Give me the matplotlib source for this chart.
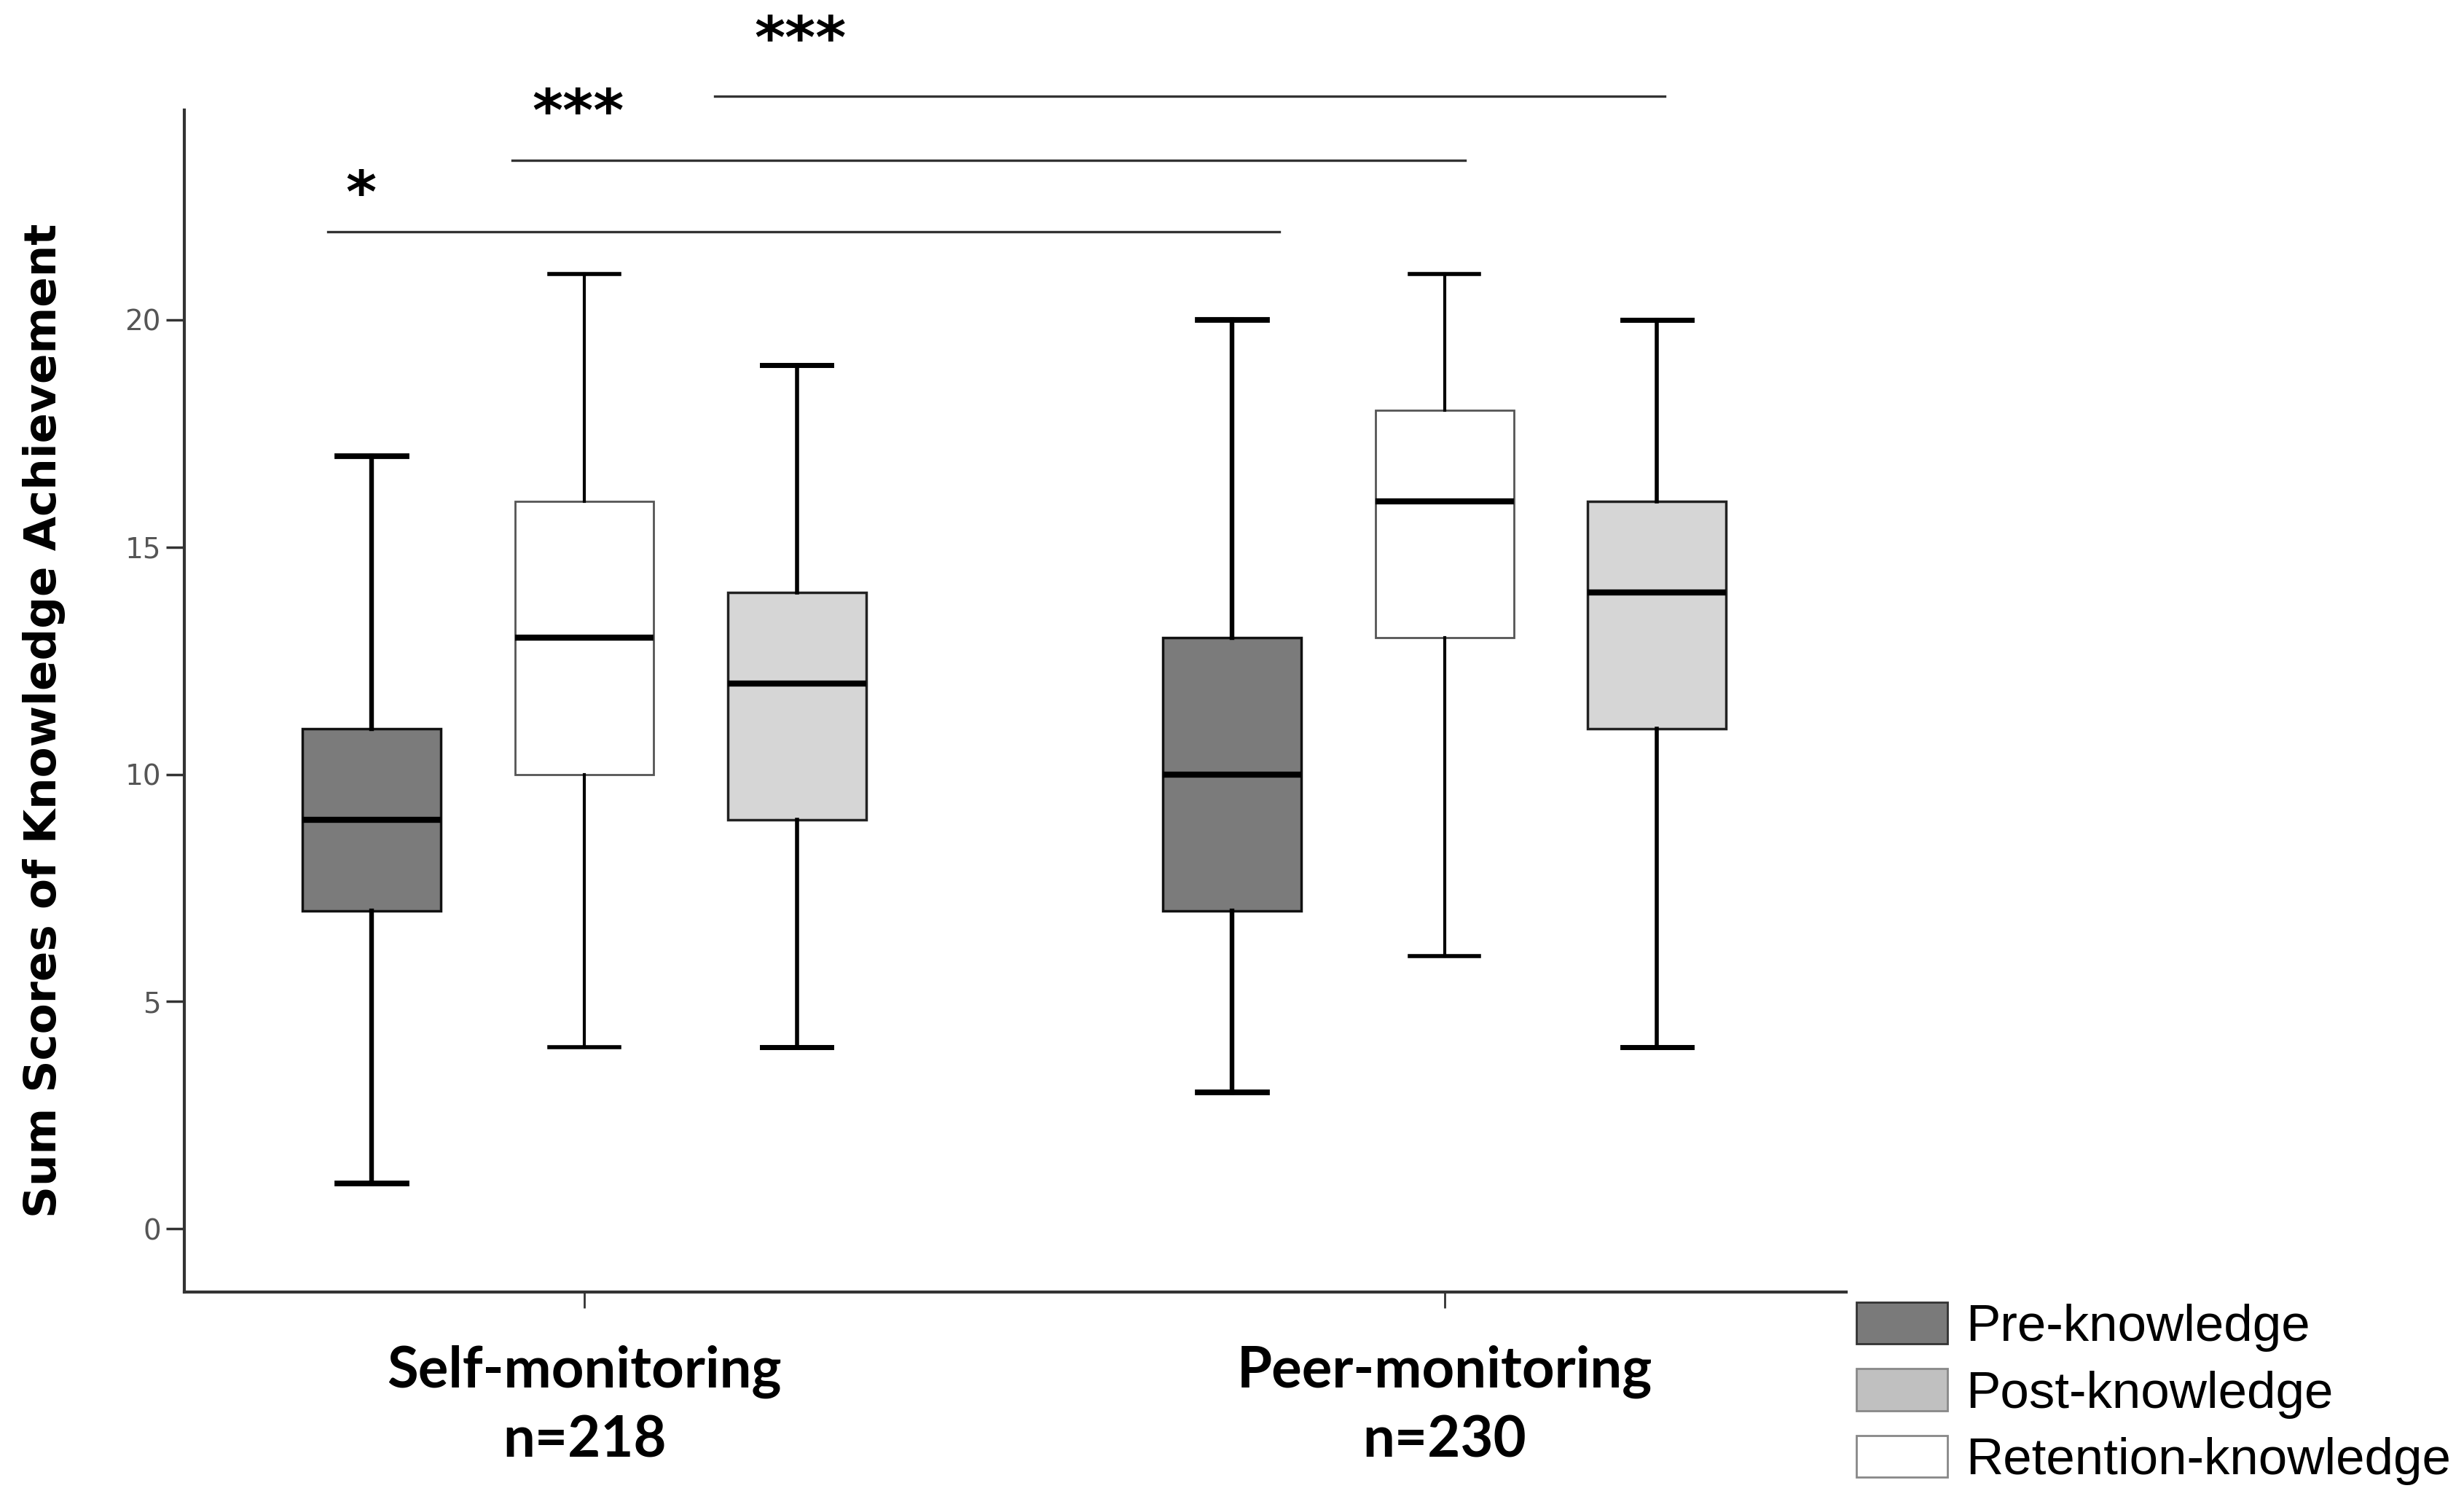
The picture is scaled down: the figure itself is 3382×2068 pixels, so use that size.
import matplotlib
matplotlib.use("Agg")
import matplotlib.pyplot as plt
from matplotlib.patches import Patch

# box statistics (whisker low, Q1, median, Q3, whisker high)
groups = ["Self-monitoring\nn=218", "Peer-monitoring\nn=230"]
pre_stats = [(1, 7, 9, 11, 17), (3, 7, 10, 13, 20)]
white_stats = [(4, 10, 13, 16, 21), (6, 13, 16, 18, 21)]
light_stats = [(4, 9, 12, 14, 19), (4, 11, 14, 16, 20)]

legend_labels = ["Pre-knowledge", "Post-knowledge", "Retention-knowledge"]

# significance bars: (x start, x end, y, text x, text y, text)
sig_lines = [(-0.2985, 0.8077, 21.94, -0.26, 22.72, "*"),
             (-0.084, 1.024, 23.50, -0.007, 24.52, "***"),
             (0.152, 1.256, 24.92, 0.251, 26.11, "***")]


def to_stats(vals):
    lo, q1, med, q3, hi = vals
    return {"whislo": lo, "q1": q1, "med": med, "q3": q3, "whishi": hi, "fliers": []}


fig = plt.figure(figsize=(33.82, 20.68), dpi=100)
ax = fig.add_axes([0.0748, 0.1427, 0.6745, 0.7843])

offset = 0.247
width = 0.161
series = [
    (pre_stats, -offset, "#7b7b7b", "#111111", 2.5, 4.6),
    (white_stats, 0.0, "#ffffff", "#555555", 2.0, 3.0),
    (light_stats, offset, "#d6d6d6", "#222222", 2.5, 4.0),
]
for stats, off, fc, ec, blw, wlw in series:
    ax.bxp([to_stats(s) for s in stats],
           positions=[i + off for i in range(len(stats))],
           widths=width, patch_artist=True, showfliers=False,
           manage_ticks=False,
           boxprops=dict(facecolor=fc, edgecolor=ec, linewidth=blw),
           medianprops=dict(color="black", linewidth=6),
           whiskerprops=dict(color="black", linewidth=wlw),
           capprops=dict(color="black", linewidth=wlw + 1.0),
           capwidths=width / 2)

for x0, x1, y, tx, ty, t in sig_lines:
    ax.plot([x0, x1], [y, y], color="#333333", linewidth=2.4, clip_on=False)
    ax.text(tx, ty, t, ha="center", va="center", fontsize=58,
            fontweight="bold", family="DejaVu Sans", clip_on=False)

ax.set_xlim(-0.465, 1.467)
ax.set_ylim(-1.386, 24.61)
ax.set_yticks([0, 5, 10, 15, 20])
ax.set_xticks([0, 1])
ax.set_xticklabels(groups, fontsize=56, fontweight="bold", family="Lato",
                   linespacing=1.4)
ax.tick_params(axis="y", labelsize=28, labelcolor="#555555", length=18,
               width=2.5, color="#333333", pad=5)
ax.tick_params(axis="x", length=16, width=2.0, color="#333333", pad=36)

for side in ["top", "right"]:
    ax.spines[side].set_visible(False)
for side in ["left", "bottom"]:
    ax.spines[side].set_linewidth(3)
    ax.spines[side].set_color("#333333")

fig.text(0.018, 0.522, "Sum Scores of Knowledge Achievement", rotation=90,
         ha="center", va="center", fontsize=44, fontweight="bold",
         family="DejaVu Sans")

handles = [Patch(facecolor="#7a7a7a", edgecolor="#333333", linewidth=2),
           Patch(facecolor="#c0c0c0", edgecolor="#888888", linewidth=2),
           Patch(facecolor="#ffffff", edgecolor="#888888", linewidth=2)]
fig.legend(handles, legend_labels, loc="upper left",
           bbox_to_anchor=(0.7535, 0.136), frameon=False,
           prop={"family": "Liberation Sans", "size": 51},
           handlelength=1.76, handleheight=0.87, handletextpad=0.35,
           labelspacing=0.33, borderpad=0, borderaxespad=0)

fig.savefig("out.png", dpi=100)
